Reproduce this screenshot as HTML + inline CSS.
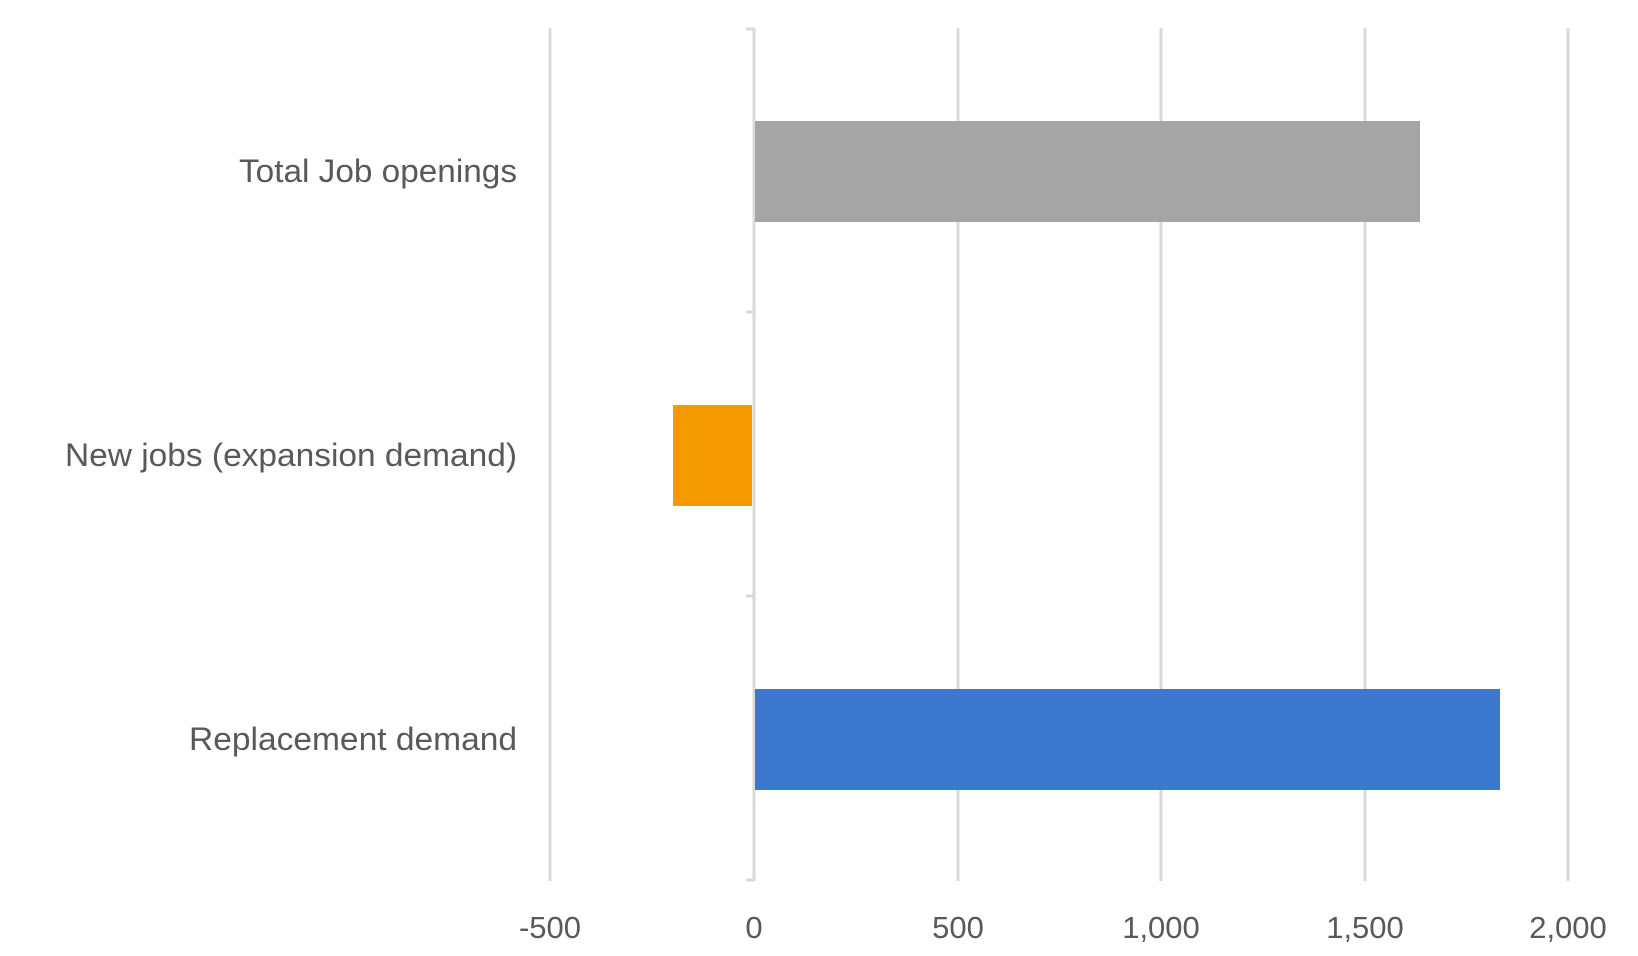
<!DOCTYPE html>
<html><head><meta charset="utf-8"><style>html,body{margin:0;padding:0;background:#fff;}svg{display:block}</style></head>
<body>
<svg width="1638" height="956" xmlns="http://www.w3.org/2000/svg" font-family="'Liberation Sans', sans-serif">
<rect width="1638" height="956" fill="#fff"/>
<g stroke="#d9d9d9" stroke-width="3">
<line x1="550" y1="28" x2="550" y2="881"/>
<line x1="958" y1="28" x2="958" y2="881"/>
<line x1="1161" y1="28" x2="1161" y2="881"/>
<line x1="1365" y1="28" x2="1365" y2="881"/>
<line x1="1568" y1="28" x2="1568" y2="881"/>
<line x1="754" y1="28" x2="754" y2="881"/>
<line x1="746" y1="29" x2="754" y2="29"/>
<line x1="746" y1="312" x2="754" y2="312"/>
<line x1="746" y1="596" x2="754" y2="596"/>
<line x1="746" y1="880" x2="754" y2="880"/>
</g>
<rect x="755" y="121" width="665" height="101" fill="#a5a5a5"/>
<rect x="673" y="405" width="79" height="101" fill="#f59a00"/>
<rect x="755" y="689" width="745" height="101" fill="#3c78cd"/>
<g fill="#595959" font-size="32">
<text x="239" y="182" textLength="278" lengthAdjust="spacingAndGlyphs">Total Job openings</text>
<text x="65" y="466" textLength="452" lengthAdjust="spacingAndGlyphs">New jobs (expansion demand)</text>
<text x="189" y="750" textLength="328" lengthAdjust="spacingAndGlyphs">Replacement demand</text>
</g>
<g fill="#595959" font-size="31" text-anchor="middle">
<text x="550" y="938">-500</text>
<text x="754" y="938">0</text>
<text x="958" y="938">500</text>
<text x="1161" y="938">1,000</text>
<text x="1365" y="938">1,500</text>
<text x="1568" y="938">2,000</text>
</g>
</svg>
</body></html>
